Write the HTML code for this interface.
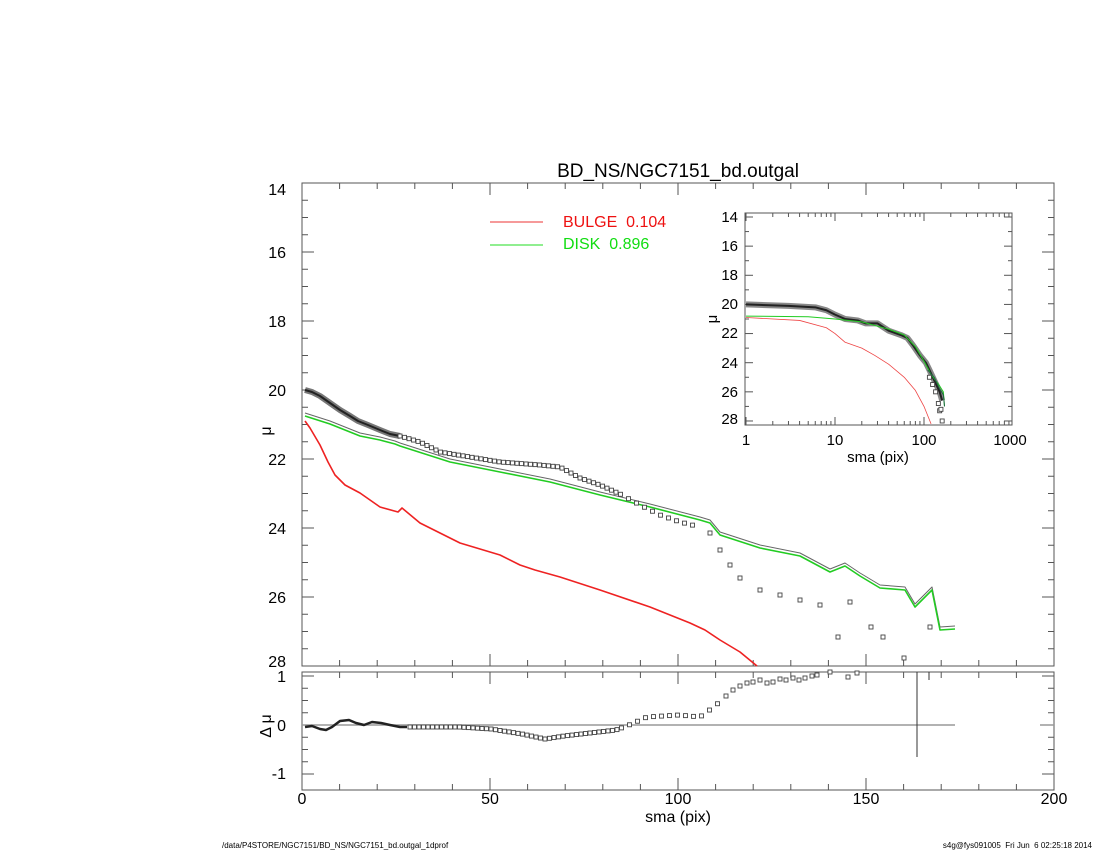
<!DOCTYPE html>
<html><head><meta charset="utf-8"><style>
html,body{margin:0;padding:0;background:#fff;}
svg{display:block;font-family:"Liberation Sans",sans-serif;}
</style></head><body>
<svg id="s" width="1100" height="850" xmlns="http://www.w3.org/2000/svg">
<rect width="1100" height="850" fill="#fff"/>
<text x="678" y="177" font-size="19" text-anchor="middle">BD_NS/NGC7151_bd.outgal</text>
<g id="g"></g>
<text x="286" y="195" font-size="16" text-anchor="end">14</text>
<text x="286" y="258" font-size="16" text-anchor="end">16</text>
<text x="286" y="327" font-size="16" text-anchor="end">18</text>
<text x="286" y="396" font-size="16" text-anchor="end">20</text>
<text x="286" y="465" font-size="16" text-anchor="end">22</text>
<text x="286" y="534" font-size="16" text-anchor="end">24</text>
<text x="286" y="603" font-size="16" text-anchor="end">26</text>
<text x="286" y="667" font-size="16" text-anchor="end">28</text>
<text x="266" y="436" font-size="16" transform="rotate(-90 266 431)" text-anchor="middle">μ</text>
<text x="286" y="682" font-size="16" text-anchor="end">1</text>
<text x="286" y="731" font-size="16" text-anchor="end">0</text>
<text x="286" y="779" font-size="16" text-anchor="end">-1</text>
<text x="266" y="731" font-size="16" transform="rotate(-90 266 726)" text-anchor="middle">Δ μ</text>
<text x="302" y="804" font-size="16" text-anchor="middle">0</text>
<text x="490" y="804" font-size="16" text-anchor="middle">50</text>
<text x="678" y="804" font-size="16" text-anchor="middle">100</text>
<text x="866" y="804" font-size="16" text-anchor="middle">150</text>
<text x="1054" y="804" font-size="16" text-anchor="middle">200</text>
<text x="678" y="822" font-size="16" text-anchor="middle">sma (pix)</text>
<line x1="490" y1="222" x2="543" y2="222" stroke="#e33" stroke-width="1"/>
<line x1="490" y1="245" x2="543" y2="245" stroke="#2d2" stroke-width="1"/>
<text x="563" y="227" font-size="16" fill="#e11" xml:space="preserve">BULGE  0.104</text>
<text x="563" y="249" font-size="16" fill="#1d1" xml:space="preserve">DISK  0.896</text>
<text x="738" y="222" font-size="15" text-anchor="end">14</text>
<text x="738" y="251" font-size="15" text-anchor="end">16</text>
<text x="738" y="280" font-size="15" text-anchor="end">18</text>
<text x="738" y="309" font-size="15" text-anchor="end">20</text>
<text x="738" y="338" font-size="15" text-anchor="end">22</text>
<text x="738" y="368" font-size="15" text-anchor="end">24</text>
<text x="738" y="397" font-size="15" text-anchor="end">26</text>
<text x="738" y="424" font-size="15" text-anchor="end">28</text>
<text x="712" y="324" font-size="15" transform="rotate(-90 712 319)" text-anchor="middle">μ</text>
<text x="746" y="445" font-size="15" text-anchor="middle">1</text>
<text x="835" y="445" font-size="15" text-anchor="middle">10</text>
<text x="924" y="445" font-size="15" text-anchor="middle">100</text>
<text x="1010" y="445" font-size="15" text-anchor="middle">1000</text>
<text x="878" y="462" font-size="15" text-anchor="middle">sma (pix)</text>
<text x="222" y="848" font-size="8">/data/P4STORE/NGC7151/BD_NS/NGC7151_bd.outgal_1dprof</text>
<text x="1092" y="848" font-size="8" text-anchor="end" xml:space="preserve">s4g@fys091005  Fri Jun  6 02:25:18 2014</text>
</svg>
<script>
var g=document.getElementById('g'),o='';
function L(a,b,c,d,s,w){o+='<line x1="'+a+'" y1="'+b+'" x2="'+c+'" y2="'+d+'" stroke="'+(s||'#000')+'" stroke-width="'+(w||1)+'"/>';}
function P(pts,s,w,f){o+='<polyline points="'+pts.map(p=>p.join(',')).join(' ')+'" fill="none" stroke="'+s+'" stroke-width="'+w+'" stroke-linejoin="round"/>';}
o+='<rect x="302" y="183" width="752" height="483" fill="none" stroke="#555"/>';
o+='<rect x="302" y="672" width="752" height="118" fill="none" stroke="#555"/>';
for(var v=0;v<=200;v+=10){var x=302+v*3.76,l=v%50==0?12:6;L(x,183,x,183+l,'#555');L(x,666,x,666-l,'#555');L(x,672,x,672+l,'#555');L(x,790,x,790-l,'#555');}
for(var m=14;m<=28;m+=0.5){var y=183+(m-14)*34.5,l=m%2==0?12:6;L(302,y,302+l,y,'#555');L(1054,y,1054-l,y,'#555');}
for(var r=-1;r<=1;r+=0.25){var y=725-r*49,l=r%1==0?12:6;L(302,y,302+l,y,'#555');L(1054,y,1054-l,y,'#555');}
P([[305,421],[310,428],[320,445],[328,462],[335,475],[345,485],[360,493],[380,507],[398,512],[402,508],[420,523],[460,543],[500,555],[520,565],[535,570],[560,577],[600,590],[650,607],[690,623],[705,630],[720,640],[740,652],[757,666]],'#e22',1.6);
var gr=[[305,416],[330,424],[360,436],[380,440],[395,444],[400,446],[450,462],[500,472],[550,482],[600,495],[650,507],[700,520],[710,523],[720,535],[760,548],[800,556],[830,572],[845,566],[860,576],[880,588],[905,590],[915,607],[932,590],[940,630],[955,629]];
P(gr.map(p=>[p[0],p[1]-3]),'#666',1);
P(gr,'#2c2',1.6);
var d=[[305,390],[312,392],[320,396],[330,403],[340,410],[350,416],[358,421],[368,425],[380,430],[390,434],[400,436],[420,442],[440,452],[470,457],[500,462],[540,465],[560,467],[580,478],[600,485],[620,494],[640,505],[660,515],[680,522],[700,527],[710,533],[720,550],[730,565],[740,578],[760,590],[780,595],[800,600],[820,605]];
P(d.slice(0,11),'#777',6);P(d.slice(0,11),'#222',2);
function interp(a,x){for(var i=0;i<a.length-1;i++){if(x>=a[i][0]&&x<=a[i+1][0]){var t=(x-a[i][0])/(a[i+1][0]-a[i][0]);return a[i][1]+t*(a[i+1][1]-a[i][1]);}}return null;}
function sq(x,y){o+='<rect x="'+(x-2)+'" y="'+(y-2)+'" width="4" height="4" fill="#fff" stroke="#444" stroke-width="0.9"/>';}
for(var x=400;x<=700;x+=(x<620?4.5:8))sq(x,interp(d,x));
[[710,533],[720,550],[730,565],[740,578],[760,590],[780,595],[800,600],[820,605],[838,637],[850,602],[871,627],[883,637],[904,658],[930,627]].forEach(p=>sq(p[0],p[1]));
L(302,725,955,725,'#999',1.5);L(1040,725,1054,725,'#999',1.5);
var rd=[[305,727],[312,726],[320,729],[326,730],[332,727],[340,721],[349,720],[356,723],[364,725],[372,722],[381,723],[390,725],[400,727],[407,727],[459,727],[491,729],[522,734],[545,739],[564,736],[616,730],[629,725],[647,717],[679,715],[700,717],[715,706],[726,696],[747,683],[773,682],[799,680],[817,675],[857,673]];
P(rd.slice(0,14),'#222',2.5);
for(var x=410;x<=720;x+=(x<620?4.5:8))sq(x,interp(rd,x));
[[726,696],[733,690],[740,686],[747,683],[753,682],[760,680],[767,683],[773,682],[780,679],[786,680],[793,678],[799,680],[805,678],[812,676],[817,675],[830,672],[848,677],[857,673]].forEach(p=>sq(p[0],p[1]));
L(917,672,917,757,'#333',1);L(929,672,929,680,'#333',1);
o+='<rect x="745" y="213" width="267" height="212" fill="#fff" stroke="#555"/>';
for(var m=14;m<=28;m+=1){var y=217+(m-14)*14.57,l=m%2==0?8:4;L(745,y,745+l,y,'#555');L(1012,y,1012-l,y,'#555');}
for(var dec=0;dec<3;dec++)for(var k=1;k<10;k++){var x=746+89*(dec+Math.log10(k)),l=k==1?8:4;L(x,213,x,213+l,'#555');L(x,425,x,425-l,'#555');}
var X=s=>746+89*Math.log10(s),Y=m=>217+(m-14)*14.57;
var id=[[1,20],[3,20.1],[6,20.2],[8,20.4],[10,20.7],[13,21],[18,21.1],[22,21.3],[30,21.3],[40,21.8],[55,22.1],[65,22.3],[75,22.8],[90,23.5],[105,24],[115,24.5],[130,25.2],[150,26],[160,26.6]].map(p=>[X(p[0]),Y(p[1])]);
P(id,'#888',6);P(id,'#222',2);
P([[1,20.8],[5,20.85],[10,21],[20,21.2],[40,21.7],[60,22.1],[80,22.9],[100,23.9],[120,24.8],[150,25.6],[165,26],[170,27]].map(p=>[X(p[0]),Y(p[1])]),'#2c2',1);
P([[110,24.5],[130,25],[150,25.8],[165,26.2],[170,27]].map(p=>[X(p[0]),Y(p[1])]),'#264',1);
P([[1,20.9],[4,21.1],[8,21.6],[10,22],[13,22.6],[20,23],[28,23.5],[40,24.1],[60,25],[80,25.9],[100,27],[120,28.2]].map(p=>[X(p[0]),Y(p[1])]),'#e44',0.8);
[[115,25],[125,25.5],[135,26],[145,26.8],[150,27.3],[155,27.2],[160,28]].forEach(p=>sq(X(p[0]),Y(p[1])));
g.innerHTML=o;
</script>
</body></html>
